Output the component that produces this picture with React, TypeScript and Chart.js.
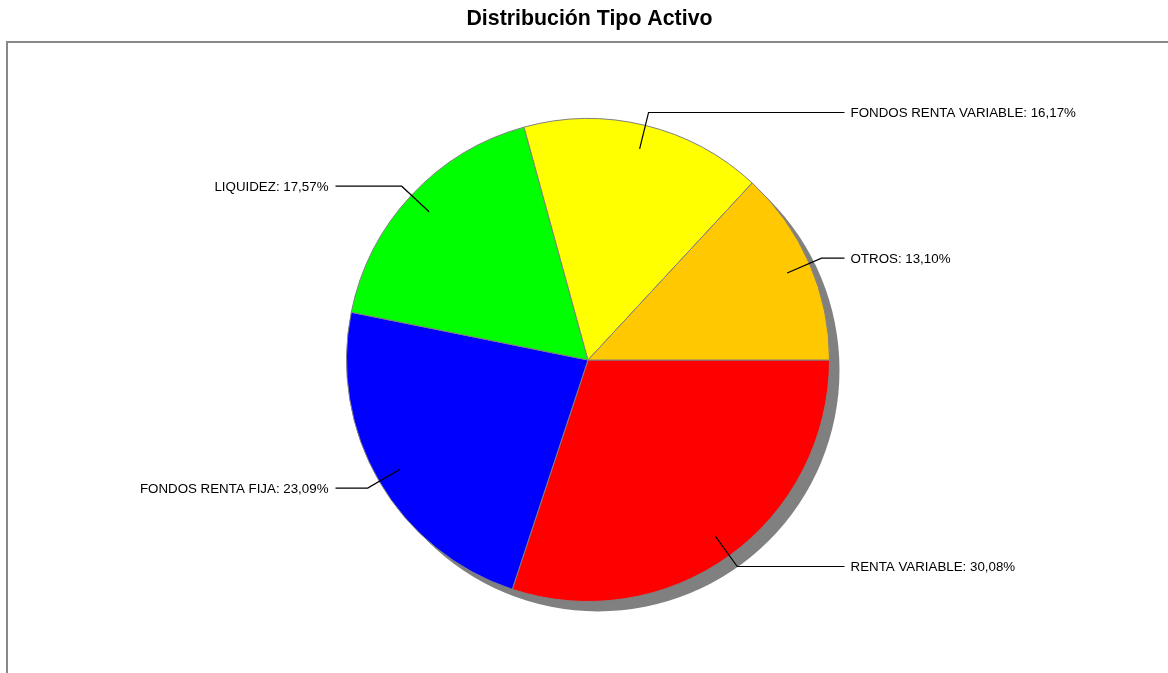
import React, { useEffect, useRef } from "react";
import { Chart, registerables } from "chart.js";

Chart.register(...registerables);

const TITLE = "Distribución Tipo Activo";
const categories = ["RENTA VARIABLE", "FONDOS RENTA FIJA", "LIQUIDEZ", "FONDOS RENTA VARIABLE", "OTROS"];
const values = [30.08, 23.09, 17.57, 16.17, 13.1];
const colors = ["#FF0000", "#0000FF", "#00FF00", "#FFFF00", "#FFC800"];

const fmt = (v: number) => v.toFixed(2).replace(".", ",") + "%";

const framePlugin = {
  id: "frame",
  beforeDraw(chart: any) {
    const ctx = chart.ctx;
    ctx.save();
    ctx.fillStyle = "#ffffff";
    ctx.fillRect(0, 0, chart.width, chart.height);
    ctx.strokeStyle = "#888888";
    ctx.lineWidth = 2;
    ctx.beginPath();
    ctx.moveTo(7, chart.height + 5);
    ctx.lineTo(7, 42);
    ctx.lineTo(chart.width + 5, 42);
    ctx.stroke();
    ctx.fillStyle = "#000000";
    ctx.font = "bold 21.33px 'Liberation Sans', Arial, sans-serif";
    ctx.textAlign = "center";
    ctx.textBaseline = "middle";
    ctx.fillText(TITLE, 589.5, 19);
    ctx.restore();
  },
};

const shadowPlugin = {
  id: "pieShadow",
  beforeDatasetsDraw(chart: any) {
    const arc = chart.getDatasetMeta(0).data[0];
    if (!arc) return;
    const { x, y, outerRadius } = arc.getProps(["x", "y", "outerRadius"], true);
    const ctx = chart.ctx;
    ctx.save();
    ctx.fillStyle = "#808080";
    ctx.beginPath();
    ctx.arc(x + 10, y + 10, outerRadius, 0, Math.PI * 2);
    ctx.fill();
    ctx.restore();
  },
};

const labelPlugin = {
  id: "leaderLabels",
  afterDatasetsDraw(chart: any) {
    const ctx = chart.ctx;
    const meta = chart.getDatasetMeta(0);
    ctx.save();
    ctx.strokeStyle = "#000000";
    ctx.lineWidth = 1.2;
    ctx.fillStyle = "#000000";
    ctx.font = "13.33px 'Liberation Sans', Arial, sans-serif";
    ctx.textBaseline = "middle";
    meta.data.forEach((el: any, i: number) => {
      const { x, y, startAngle, endAngle, outerRadius } = el.getProps(
        ["x", "y", "startAngle", "endAngle", "outerRadius"],
        true
      );
      const mid = (startAngle + endAngle) / 2;
      const c = Math.cos(mid);
      const s = Math.sin(mid);
      const x1 = x + outerRadius * 0.9 * c;
      const y1 = y + outerRadius * 0.9 * s;
      const x2 = x + outerRadius * 1.055 * c;
      const y2 = y + outerRadius * 1.055 * s;
      const right = c >= 0;
      const x3 = right ? x + outerRadius + 15 : x - outerRadius - 11;
      ctx.beginPath();
      ctx.moveTo(x1, y1);
      ctx.lineTo(x2, y2);
      ctx.lineTo(x3, y2);
      ctx.stroke();
      ctx.textAlign = right ? "left" : "right";
      const text = categories[i] + ": " + fmt(values[i]);
      ctx.fillText(text, right ? x3 + 6 : x3 - 7, y2 + 1);
    });
    ctx.restore();
  },
};

export default function App() {
  const ref = useRef<HTMLCanvasElement>(null);
  useEffect(() => {
    document.body.style.margin = "0";
    const chart = new Chart(ref.current!, {
      type: "pie",
      data: {
        labels: categories,
        datasets: [
          {
            data: values,
            backgroundColor: colors,
            borderColor: "#808080",
            borderWidth: 1,
          },
        ],
      },
      options: {
        animation: false,
        responsive: false,
        rotation: 90,
        layout: { padding: { top: 118, bottom: 71, left: 100, right: 92 } },
        plugins: {
          legend: { display: false },
          tooltip: { enabled: false },
          title: { display: false },
        },
      },
      plugins: [framePlugin, shadowPlugin, labelPlugin],
    });
    return () => chart.destroy();
  }, []);
  return (
    <div style={{ width: 1168, height: 673, overflow: "hidden" }}>
      <canvas ref={ref} width={1168} height={673} style={{ display: "block" }} />
    </div>
  );
}
